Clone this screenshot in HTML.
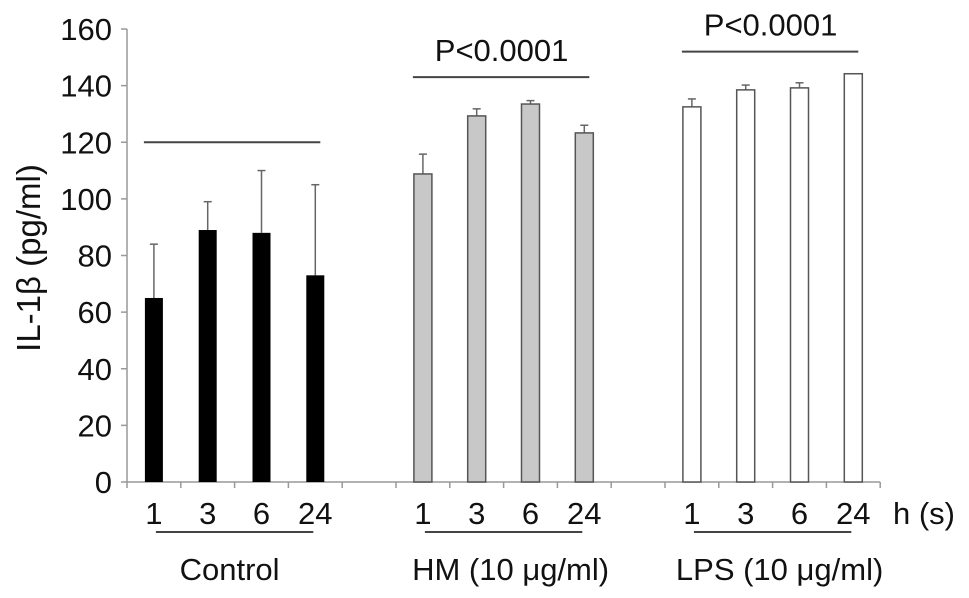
<!DOCTYPE html>
<html><head><meta charset="utf-8"><style>
body{margin:0;background:#fff}
svg{display:block;font-family:"Liberation Sans",Arial,sans-serif}
</style></head><body>
<svg id="chart" width="969" height="598"></svg>
<script>
const groups=["Control","HM (10 μg/ml)","LPS (10 μg/ml)"];
const timeLabels=["1","3","6","24"];
const controlValues=[65,89,88,73];
const controlErr=[19,10,22,32];
const hmValues=[108.8,129.3,133.5,123.3];
const hmErr=[7,2.5,1.2,2.7];
const lpsValues=[132.5,138.5,139.2,144.2];
const lpsErr=[2.8,1.7,1.8,0];
const yTicks=[0,20,40,60,80,100,120,140,160];
const sigLevels=[120,143,152];
const sigLabels=["","P<0.0001","P<0.0001"];

const NS="http://www.w3.org/2000/svg";
const svg=document.getElementById('chart');
const x0=127,slot=53.8,y0=482,pxPer=453/160;
const Y=v=>y0-v*pxPer;
const slotX=i=>x0+(i+0.5)*slot;
function mk(t,a,txt){const e=document.createElementNS(NS,t);for(const k in a)e.setAttribute(k,a[k]);if(txt!==undefined)e.textContent=txt;svg.appendChild(e);return e;}

let e=mk('line',{x1:x0,y1:Y(0),x2:x0,y2:Y(160),stroke:'#999','stroke-width':1.5});


e=mk('line',{x1:x0,y1:y0,x2:x0+14*slot,y2:y0,stroke:'#999','stroke-width':1.5});


yTicks.forEach(t=>{
  let l=mk('line',{x1:x0-6,y1:Y(t),x2:x0,y2:Y(t),stroke:'#999','stroke-width':1.5});
  
  
  let tx=mk('text',{x:x0-15,y:Y(t)+11,'text-anchor':'end','font-size':31,fill:'#111'},t);
  
  
});
for(let i=0;i<=14;i++){
  let l=mk('line',{x1:x0+i*slot,y1:y0,x2:x0+i*slot,y2:y0+6,stroke:'#999','stroke-width':1.5});
  
  
}
e=mk('text',{x:0,y:0,'text-anchor':'middle','font-size':33,fill:'#111',transform:'translate(40,258) rotate(-90)'},'IL-1β (pg/ml)');



const series=[[controlValues,controlErr,'#000','#000'],[hmValues,hmErr,'#c8c8c8','#555'],[lpsValues,lpsErr,'#fff','#555']];
series.forEach((s,g)=>{
  const [vals,errs,fill,stroke]=s;
  vals.forEach((v,i)=>{
    const cx=slotX(g*5+i);
    if(errs[i]>0){
      let el=mk('line',{x1:cx,y1:Y(v),x2:cx,y2:Y(v+errs[i]),stroke:'#666','stroke-width':1.5});
      
      
      let c=mk('line',{x1:cx-4,y1:Y(v+errs[i]),x2:cx+4,y2:Y(v+errs[i]),stroke:'#666','stroke-width':1.5});
      
      
    }
    let r=mk('rect',{x:cx-9,y:Y(v),width:18,height:v*pxPer,fill:fill,stroke:stroke,'stroke-width':fill==='#000'?0:1.5});
    
    
    let t=mk('text',{x:cx,y:524,'text-anchor':'middle','font-size':31,fill:'#111'},timeLabels[i]);
    
    
  });
  const a=slotX(g*5),b=slotX(g*5+3);
  let u=mk('line',{x1:a+2,y1:532,x2:b-2,y2:532,stroke:'#444','stroke-width':2});
  
  
  let gl=mk('text',{x:(a+b)/2+(g===0?-5:7),y:580,'text-anchor':'middle','font-size':31,fill:'#111'},groups[g]);
  
  
  let sl=mk('line',{x1:a-10,y1:Y(sigLevels[g]),x2:b+5,y2:Y(sigLevels[g]),stroke:'#444','stroke-width':2});
  
  
  if(sigLabels[g]){
    let st=mk('text',{x:(a+b)/2-2,y:Y(sigLevels[g])-16,'text-anchor':'middle','font-size':31,fill:'#111'},sigLabels[g]);
    
    
  }
});
e=mk('text',{x:893,y:524,'font-size':31,fill:'#111'},'h (s)');


</script>
</body></html>
